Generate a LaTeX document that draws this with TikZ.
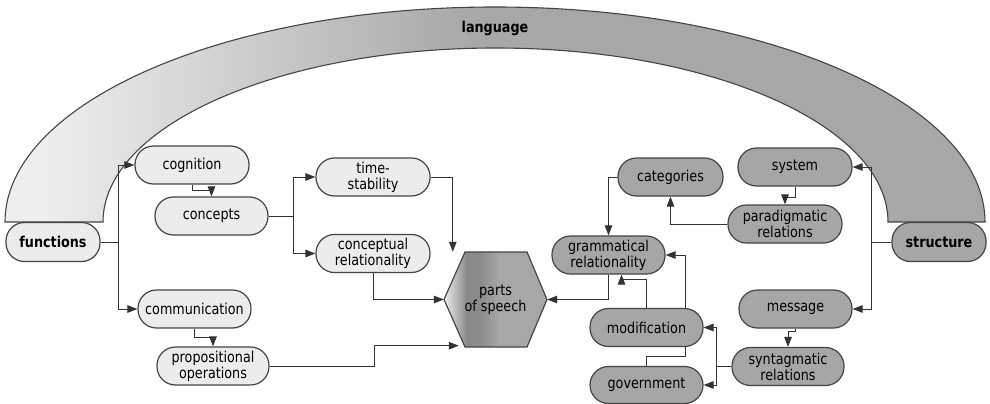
\documentclass[tikz,border=0pt]{standalone}
\usepackage{fontspec}
\setmainfont{DejaVu Sans}[FakeStretch=0.85]
\usetikzlibrary{arrows.meta}
\definecolor{pilllight}{HTML}{ECECEC}
\definecolor{pilldark}{HTML}{A6A6A6}
\definecolor{edge}{HTML}{454545}
\definecolor{wire}{HTML}{333333}
\definecolor{archlight}{HTML}{EEEEEE}
\definecolor{archdark}{HTML}{A7A7A7}
\definecolor{hexdark}{HTML}{8A8A8A}
\pgfdeclarehorizontalshading{archgrad}{100bp}{color(0bp)=(archlight); color(27bp)=(archlight); color(49bp)=(archdark); color(100bp)=(archdark)}
\pgfdeclarehorizontalshading{hexgrad}{100bp}{color(0bp)=(archlight); color(25bp)=(archlight); color(36bp)=(hexdark); color(42bp)=(hexdark); color(52bp)=(archdark); color(100bp)=(archdark)}
\begin{document}
\begin{tikzpicture}[x=1pt,y=-1pt,
  pill/.style={draw=edge, line width=1.2pt, rounded corners=18.5pt, minimum width=113pt,
    minimum height=38pt, inner sep=0pt, align=center, font=\fontsize{15}{16}\selectfont},
  fpill/.style={pill, fill=pilllight},
  spill/.style={pill, fill=pilldark},
  link/.style={draw=wire, line width=1pt},
  arr/.style={link, -{Triangle[length=10pt,width=7.5pt]}}]
\useasboundingbox[fill=white] (0,0) rectangle (990,404);
% arch
  \shade[shading=archgrad, draw=edge, line width=1.1pt] (5,222) arc[start angle=180, end angle=360, x radius=490, y radius=215]
    -- (888,222) arc[start angle=360, end angle=180, x radius=392.5, y radius=174] -- cycle;
  \node[font=\bfseries\fontsize{15}{16}\selectfont] (lang) at (495,28) {language};
% parts of speech
  \shade[shading=hexgrad, draw=edge, line width=1.2pt] (444,299.5) -- (465,252) -- (527,252) -- (547,299.5)
    -- (527,347) -- (465,347) -- cycle;
  \node[minimum width=103pt, minimum height=95pt, inner sep=0pt, align=center,
    font=\fontsize{15}{16}\selectfont] (pos) at (495.5,299.5) {parts\\of speech};
% functions side
  \node[fpill, minimum width=94pt, minimum height=39pt, font=\bfseries\fontsize{15}{16}\selectfont] (functions) at (53,242) {functions};
  \node[fpill, minimum width=114pt] (cognition) at (192,165) {cognition};
  \node[fpill] (concepts) at (211.5,216) {concepts};
  \node[fpill, minimum width=114pt] (tstab) at (373,177) {time-\\stability};
  \node[fpill, minimum width=114pt] (crel) at (373,253.5) {conceptual\\relationality};
  \node[fpill] (comm) at (194.5,309) {communication};
  \node[fpill, minimum width=112pt] (prop) at (213,366) {propositional\\operations};
% structure side
  \node[spill, minimum width=94pt, minimum height=39pt, font=\bfseries\fontsize{15}{16}\selectfont] (structure) at (939,242) {structure};
  \node[spill, minimum width=114pt] (system) at (795,167) {system};
  \node[spill, minimum width=114pt] (para) at (785,224) {paradigmatic\\relations};
  \node[spill, minimum width=105pt] (cat) at (670.5,177) {categories};
  \node[spill] (gram) at (608.5,255) {grammatical\\relationality};
  \node[spill] (message) at (795.5,309) {message};
  \node[spill, minimum width=112pt] (synt) at (788,366.5) {syntagmatic\\relations};
  \node[spill] (mod) at (646.5,327.5) {modification};
  \node[spill, minimum height=37pt] (gov) at (646.5,385) {government};
% links, functions side
  \draw[arr] (functions.east) -- ++(18,0) |- (cognition.west);
  \draw[arr] (functions.east) -- ++(18,0) |- (comm.west);
  \draw[arr] (cognition.south) -- ++(0,6) -| (concepts.north);
  \draw[arr] (comm.south) -- ++(0,9) -| (prop.north);
  \draw[arr] (concepts.east) -- ++(25,0) |- (tstab.west);
  \draw[arr] (concepts.east) -- ++(25,0) |- (crel.west);
  \draw[arr] (tstab.east) -| ([xshift=9pt]pos.north west);
  \draw[arr] (crel.south) |- (pos.west);
  \draw[arr] (prop.east) -- ++(105,0) |- ([xshift=15pt,yshift=1.5pt]pos.south west);
% links, structure side
  \draw[arr] (structure.west) -- ++(-20,0) |- (system.east);
  \draw[arr] (structure.west) -- ++(-20,0) |- (message.east);
  \draw[arr] (system.south) -- ++(0,11) -| (para.north);
  \draw[arr] (para.west) -| (cat.south);
  \draw[arr] (cat.west) -| (gram.north);
  \draw[arr] (gram.south) |- (pos.east);
  \draw[arr] (message.south) -- ++(0,3) -| (synt.north);
  \draw[arr] (synt.west) -- ++(-15,0) |- (mod.east);
  \draw[arr] (synt.west) -- ++(-15,0) |- (gov.east);
  \draw[arr] (mod.north) -- ++(0,-28.5) -| ([xshift=13pt]gram.south);
  \draw[arr] ([xshift=38.5pt]mod.north) |- (gram.east);
  \draw[link] ([xshift=38.5pt]mod.south) -- ++(0,9.5) -| (gov.north);
\end{tikzpicture}
\end{document}
